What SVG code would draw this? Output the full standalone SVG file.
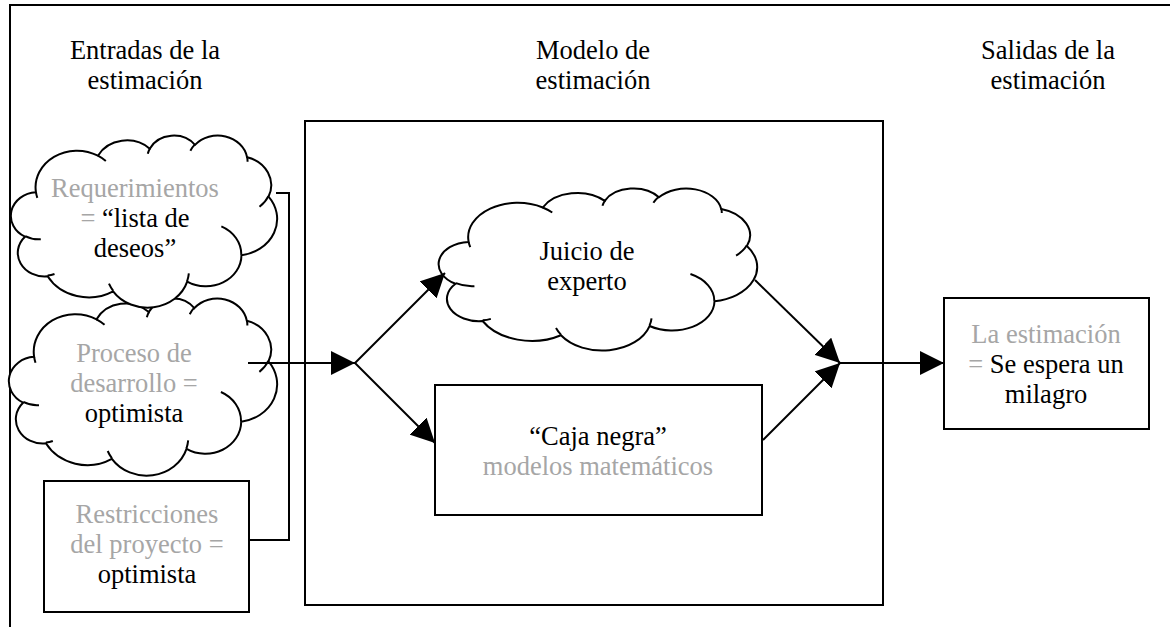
<svg xmlns="http://www.w3.org/2000/svg" xmlns:xlink="http://www.w3.org/1999/xlink" width="1170" height="627" viewBox="0 0 1170 627">
  <style>
    text { font-size: 26.5px; fill: #000; text-anchor: middle; }
    .g { fill: #a6a6a6; }
    .box { fill: #fff; stroke: #000; stroke-width: 2; }
    .frame { fill: none; stroke: #000; stroke-width: 2; }
    .co { fill: #fff; stroke: #000; stroke-width: 2; vector-effect: non-scaling-stroke; }
    .ci { fill: none; stroke: #000; stroke-width: 2; vector-effect: non-scaling-stroke; }
    .conn { fill: none; stroke: #000; stroke-width: 2; }
  </style>
  <defs>
    <marker id="ah" markerWidth="24" markerHeight="24" refX="24" refY="12" orient="auto" markerUnits="userSpaceOnUse">
      <path d="M0,0 L24,12 L0,24 Z" fill="#000"/>
    </marker>
    <g id="cloud">
      <path class="co" d="M 9.03 33.26 A 15.63 21.27 0 0 1 32.42 12.04 A 12.34 16.82 0 0 1 51.98 7.94 A 10.10 13.76 0 0 1 69.06 5.74 A 11.24 15.27 0 0 1 88.71 12.90 A 12.34 16.84 0 0 1 96.81 35.78 A 15.68 21.34 0 0 1 86.59 69.91 A 13.39 18.21 0 0 1 66.11 85.21 A 15.63 21.33 0 0 1 38.16 90.89 A 17.87 24.41 0 0 1 13.44 82.10 A 10.09 13.70 0 0 1 4.90 59.14 A 10.06 13.76 0 0 1 9.03 33.26 Z"/>
      <path class="ci" d="M 10.86 60.59 A 10.06 13.76 0 0 1 5.00 58.75 M 16.04 80.78 A 10.09 13.70 0 0 1 13.47 81.67 M 38.14 90.49 A 15.63 21.33 0 0 1 36.59 86.45 M 66.73 80.44 A 15.63 21.33 0 0 1 66.11 84.86 M 79.00 53.13 A 13.39 18.21 0 0 1 86.53 69.65 M 96.75 35.54 A 12.34 16.84 0 0 1 93.40 41.74 M 88.71 12.56 A 11.24 15.27 0 0 1 88.89 15.49 M 67.31 9.15 A 11.24 15.27 0 0 1 69.03 5.42 M 51.25 10.93 A 10.10 13.76 0 0 1 52.08 7.71 M 32.41 12.02 A 15.63 21.27 0 0 1 35.41 15.14 M 9.55 36.55 A 15.63 21.27 0 0 1 9.03 33.27"/>
    </g>
  </defs>
  <rect width="1170" height="627" fill="#fff"/>

  <g id="frame">
    <path class="frame" d="M 10 627 V 5 H 1170"/>
  </g>

  <g font-family="'Liberation Serif', 'Times New Roman', Tinos, 'Noto Serif', 'DejaVu Serif', FreeSerif, serif">
  <g id="headers">
    <text x="145" y="59">Entradas de la</text>
    <text x="145" y="89">estimación</text>
    <text x="593" y="59">Modelo de</text>
    <text x="593" y="89">estimación</text>
    <text x="1048" y="59">Salidas de la</text>
    <text x="1048" y="89">estimación</text>
  </g>

  <g id="modelo-box">
    <rect class="box" x="305" y="121" width="578" height="484" fill="none"/>
  </g>

  <g id="proceso">
    <use xlink:href="#cloud" transform="translate(10,298) scale(2.67,1.77)"/>
    <text class="g" x="134" y="362">Proceso de</text>
    <text class="g" x="134" y="392">desarrollo =</text>
    <text x="134" y="422">optimista</text>
  </g>

  <g id="requerimientos">
    <use xlink:href="#cloud" transform="translate(12,135) scale(2.65,1.72)"/>
    <text class="g" x="135" y="197">Requerimientos</text>
    <text x="135" y="227"><tspan class="g">=</tspan> “lista de</text>
    <text x="135" y="257">deseos”</text>
  </g>

  <g id="restricciones">
    <rect class="box" x="44" y="481" width="205" height="131"/>
    <text class="g" x="147" y="523">Restricciones</text>
    <text class="g" x="147" y="553">del proyecto =</text>
    <text x="147" y="583">optimista</text>
  </g>

  <g id="juicio">
    <use xlink:href="#cloud" transform="translate(440,188) scale(3.17,1.62)"/>
    <text x="587" y="260">Juicio de</text>
    <text x="587" y="290">experto</text>
  </g>

  <g id="caja-negra">
    <rect class="box" x="435" y="385" width="327" height="130"/>
    <text x="598" y="445">“Caja negra”</text>
    <text class="g" x="598" y="475">modelos matemáticos</text>
  </g>

  <g id="estimacion">
    <rect class="box" x="944" y="298" width="205" height="131"/>
    <text class="g" x="1046" y="343">La estimación</text>
    <text x="1046" y="373"><tspan class="g">=</tspan> Se espera un</text>
    <text x="1046" y="403">milagro</text>
  </g>
  </g>

  <g id="connectors">
    <path class="conn" d="M 276 193 H 289 V 540 H 249"/>
    <line class="conn" x1="248" y1="363" x2="355" y2="363" marker-end="url(#ah)"/>
    <line class="conn" x1="355" y1="363" x2="445" y2="273" marker-end="url(#ah)"/>
    <line class="conn" x1="355" y1="363" x2="435" y2="443" marker-end="url(#ah)"/>
    <line class="conn" x1="755" y1="280" x2="840" y2="363" marker-end="url(#ah)"/>
    <line class="conn" x1="763" y1="440" x2="840" y2="363" marker-end="url(#ah)"/>
    <line class="conn" x1="840" y1="363" x2="944" y2="363" marker-end="url(#ah)"/>
  </g>
</svg>
